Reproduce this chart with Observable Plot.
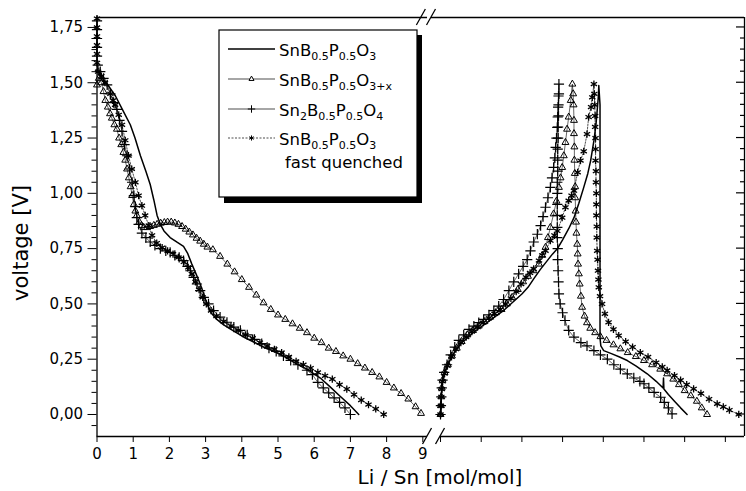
<!DOCTYPE html>
<html><head><meta charset="utf-8">
<script src="https://cdn.jsdelivr.net/npm/d3@7"></script>
<script src="https://cdn.jsdelivr.net/npm/@observablehq/plot@0.6"></script>
<style>body{margin:0;background:#fff}svg{display:block}</style>
</head><body><div id="chart"></div>
<script>
// ---------- data (x in mol/mol, voltage in V) ----------
const seriesNames = ["SnB0.5P0.5O3", "SnB0.5P0.5O3+x", "Sn2B0.5P0.5O4", "SnB0.5P0.5O3 fast quenched"];

// first discharge (left panel, x = Li/Sn)
const solidDischarge = [[0,1.56],[0.1,1.53],[0.3,1.49],[0.51,1.44],[0.7,1.38],[0.92,1.31],[1.05,1.25],[1.2,1.17],[1.35,1.10],[1.47,1.04],[1.57,0.97],[1.66,0.90],[1.75,0.86],[1.85,0.83],[2.02,0.80],[2.2,0.78],[2.39,0.76],[2.5,0.73],[2.62,0.68],[2.75,0.63],[2.85,0.59],[2.95,0.545],[3.04,0.50],[3.15,0.46],[3.31,0.43],[3.5,0.405],[3.7,0.385],[4.0,0.355],[4.3,0.33],[4.6,0.305],[4.9,0.285],[5.2,0.26],[5.5,0.23],[5.8,0.205],[6.17,0.165],[6.44,0.125],[6.7,0.085],[7.0,0.04],[7.23,0.0]];
const triDischarge = [[0,1.49],[0.05,1.52],[0.12,1.50],[0.18,1.46],[0.23,1.42],[0.3,1.39],[0.36,1.36],[0.41,1.34],[0.48,1.31],[0.55,1.29],[0.61,1.25],[0.67,1.22],[0.73,1.185],[0.78,1.15],[0.83,1.11],[0.88,1.07],[0.93,1.03],[0.97,0.99],[1.02,0.95],[1.06,0.92],[1.1,0.90],[1.17,0.87],[1.23,0.855],[1.29,0.846],[1.38,0.845],[1.47,0.85],[1.57,0.855],[1.66,0.86],[1.76,0.865],[1.86,0.868],[1.95,0.87],[2.05,0.87],[2.15,0.866],[2.25,0.86],[2.35,0.85],[2.45,0.838],[2.55,0.825],[2.65,0.812],[2.75,0.797],[2.85,0.784],[2.95,0.77],[3.05,0.757],[3.2,0.745],[3.4,0.715],[3.6,0.68],[3.8,0.645],[4.0,0.61],[4.2,0.575],[4.4,0.54],[4.6,0.505],[4.8,0.475],[5.0,0.45],[5.2,0.43],[5.4,0.41],[5.6,0.39],[5.8,0.37],[6.0,0.345],[6.2,0.325],[6.4,0.30],[6.6,0.285],[6.8,0.265],[7.0,0.25],[7.2,0.23],[7.4,0.21],[7.6,0.19],[7.8,0.17],[8.0,0.145],[8.2,0.12],[8.4,0.095],[8.6,0.07],[8.8,0.035],[8.95,0.005]];
const plusDischarge = [[0,1.78],[0,1.74],[0,1.70],[0,1.66],[0,1.62],[0.02,1.58],[0.09,1.55],[0.18,1.52],[0.28,1.49],[0.37,1.45],[0.46,1.41],[0.55,1.38],[0.62,1.33],[0.69,1.28],[0.76,1.22],[0.83,1.17],[0.9,1.11],[0.97,1.05],[1.02,0.99],[1.06,0.94],[1.1,0.89],[1.15,0.86],[1.24,0.82],[1.35,0.80],[1.47,0.78],[1.6,0.765],[1.75,0.75],[1.9,0.74],[2.02,0.733],[2.15,0.72],[2.27,0.71],[2.39,0.696],[2.5,0.67],[2.58,0.65],[2.67,0.62],[2.76,0.59],[2.85,0.56],[2.95,0.53],[3.08,0.50],[3.22,0.47],[3.4,0.44],[3.59,0.417],[3.78,0.395],[3.96,0.38],[4.15,0.36],[4.35,0.34],[4.55,0.32],[4.75,0.30],[4.95,0.285],[5.15,0.265],[5.35,0.245],[5.55,0.225],[5.8,0.20],[5.95,0.18],[6.1,0.145],[6.25,0.12],[6.4,0.098],[6.55,0.075],[6.7,0.055],[6.85,0.03],[7.0,0.0]];
const starDischarge = [[0,1.79],[0,1.75],[0,1.71],[0,1.67],[0,1.63],[0,1.59],[0.03,1.55],[0.12,1.53],[0.22,1.50],[0.37,1.45],[0.44,1.42],[0.5,1.40],[0.6,1.355],[0.69,1.31],[0.78,1.24],[0.87,1.17],[0.96,1.11],[1.06,1.05],[1.15,0.99],[1.24,0.944],[1.33,0.90],[1.43,0.854],[1.52,0.81],[1.65,0.775],[1.8,0.755],[1.95,0.74],[2.1,0.725],[2.25,0.71],[2.4,0.69],[2.52,0.665],[2.62,0.635],[2.72,0.60],[2.82,0.565],[2.92,0.53],[3.02,0.50],[3.15,0.47],[3.3,0.445],[3.5,0.42],[3.7,0.40],[3.9,0.38],[4.1,0.36],[4.3,0.345],[4.5,0.325],[4.7,0.31],[4.9,0.295],[5.1,0.28],[5.3,0.26],[5.5,0.24],[5.7,0.225],[5.9,0.21],[6.1,0.19],[6.3,0.175],[6.5,0.16],[6.7,0.135],[6.9,0.115],[7.1,0.09],[7.3,0.065],[7.5,0.045],[7.7,0.025],[7.92,0.0]];

// charge + second discharge (right panel, unlabeled axis units)
const solidCharge = [[0,0],[0.01,0.04],[0.02,0.08],[0.03,0.115],[0.05,0.15],[0.1,0.185],[0.17,0.22],[0.27,0.26],[0.38,0.29],[0.5,0.32],[0.65,0.345],[0.8,0.37],[0.95,0.39],[1.1,0.41],[1.25,0.43],[1.4,0.45],[1.55,0.47],[1.7,0.495],[1.85,0.52],[2.0,0.545],[2.15,0.575],[2.29,0.613],[2.45,0.655],[2.6,0.69],[2.75,0.725],[2.87,0.749],[3.0,0.79],[3.15,0.84],[3.28,0.89],[3.4,0.955],[3.52,1.027],[3.62,1.09],[3.69,1.148],[3.77,1.238],[3.82,1.31],[3.85,1.374],[3.88,1.44],[3.89,1.487]];
const solidRecharge = [[3.92,1.40],[3.92,1.0],[3.92,0.6],[3.92,0.345],[3.94,0.31],[4.01,0.289],[4.2,0.275],[4.4,0.26],[4.59,0.244],[4.8,0.22],[5.08,0.184],[5.3,0.15],[5.47,0.12],[5.48,0.165],[5.49,0.115],[5.6,0.09],[5.75,0.06],[5.9,0.03],[6.06,0.0]];
const triCharge = [[0,0],[0.01,0.04],[0.02,0.08],[0.03,0.12],[0.05,0.155],[0.1,0.19],[0.18,0.225],[0.28,0.265],[0.4,0.30],[0.52,0.33],[0.66,0.36],[0.8,0.38],[0.94,0.40],[1.08,0.42],[1.22,0.44],[1.36,0.46],[1.5,0.475],[1.63,0.50],[1.76,0.53],[1.9,0.565],[2.03,0.60],[2.15,0.625],[2.28,0.65],[2.42,0.68],[2.5,0.72],[2.58,0.756],[2.64,0.80],[2.7,0.846],[2.78,0.907],[2.85,0.965],[2.91,1.027],[2.95,1.07],[2.99,1.117],[3.03,1.17],[3.07,1.23],[3.11,1.29],[3.15,1.345],[3.2,1.42],[3.24,1.494]];
const triRecharge = [[3.26,1.45],[3.27,1.40],[3.28,1.33],[3.28,1.27],[3.29,1.21],[3.29,1.15],[3.3,1.09],[3.31,1.03],[3.31,0.98],[3.32,0.92],[3.33,0.87],[3.34,0.82],[3.36,0.77],[3.37,0.726],[3.38,0.68],[3.4,0.636],[3.42,0.59],[3.45,0.535],[3.48,0.485],[3.54,0.445],[3.6,0.415],[3.68,0.39],[3.8,0.37],[3.93,0.352],[4.08,0.335],[4.25,0.315],[4.42,0.297],[4.6,0.28],[4.8,0.262],[5.0,0.244],[5.2,0.225],[5.4,0.205],[5.57,0.184],[5.72,0.16],[5.86,0.135],[6.0,0.108],[6.15,0.085],[6.3,0.06],[6.42,0.03],[6.55,0.0]];
const plusCharge = [[0,0],[0.01,0.04],[0.02,0.08],[0.03,0.12],[0.05,0.155],[0.09,0.19],[0.16,0.225],[0.25,0.27],[0.35,0.305],[0.45,0.335],[0.57,0.36],[0.7,0.385],[0.82,0.40],[0.94,0.415],[1.06,0.43],[1.19,0.45],[1.31,0.47],[1.43,0.49],[1.55,0.52],[1.68,0.56],[1.8,0.60],[1.92,0.636],[2.03,0.67],[2.13,0.70],[2.21,0.74],[2.29,0.78],[2.38,0.815],[2.46,0.854],[2.52,0.895],[2.58,0.937],[2.64,0.98],[2.7,1.027],[2.74,1.07],[2.78,1.117],[2.81,1.16],[2.83,1.208],[2.85,1.25],[2.87,1.298],[2.88,1.345],[2.89,1.39],[2.9,1.44],[2.91,1.494]];
const plusRecharge = [[2.91,1.45],[2.9,1.40],[2.9,1.35],[2.89,1.30],[2.89,1.25],[2.88,1.20],[2.88,1.15],[2.88,1.10],[2.87,1.05],[2.87,1.0],[2.87,0.95],[2.87,0.90],[2.87,0.846],[2.87,0.80],[2.88,0.75],[2.88,0.70],[2.89,0.65],[2.9,0.60],[2.91,0.545],[2.94,0.50],[3.0,0.46],[3.06,0.425],[3.15,0.38],[3.28,0.35],[3.45,0.325],[3.6,0.31],[3.77,0.289],[3.93,0.27],[4.1,0.25],[4.26,0.225],[4.42,0.205],[4.59,0.184],[4.75,0.165],[4.9,0.15],[5.0,0.139],[5.12,0.12],[5.25,0.10],[5.41,0.078],[5.5,0.055],[5.6,0.03],[5.69,0.003]];
const starCharge = [[0,0],[0.01,0.04],[0.02,0.08],[0.03,0.115],[0.05,0.15],[0.1,0.185],[0.17,0.22],[0.27,0.26],[0.38,0.295],[0.5,0.325],[0.63,0.35],[0.77,0.375],[0.91,0.395],[1.05,0.415],[1.19,0.435],[1.33,0.455],[1.47,0.475],[1.6,0.50],[1.73,0.525],[1.86,0.555],[1.98,0.59],[2.1,0.62],[2.2,0.64],[2.29,0.658],[2.42,0.696],[2.5,0.72],[2.58,0.74],[2.7,0.786],[2.8,0.81],[2.87,0.83],[2.99,0.89],[3.07,0.937],[3.15,0.967],[3.22,0.99],[3.28,1.012],[3.37,1.095],[3.44,1.148],[3.52,1.19],[3.6,1.268],[3.64,1.345],[3.7,1.39],[3.73,1.434],[3.77,1.494]];
const starRecharge = [[3.78,1.45],[3.79,1.40],[3.8,1.35],[3.8,1.30],[3.81,1.25],[3.81,1.20],[3.81,1.148],[3.82,1.10],[3.82,1.05],[3.83,1.0],[3.83,0.95],[3.83,0.90],[3.84,0.85],[3.84,0.80],[3.85,0.74],[3.86,0.70],[3.87,0.65],[3.88,0.61],[3.89,0.575],[3.92,0.535],[3.97,0.50],[4.04,0.455],[4.13,0.417],[4.25,0.385],[4.38,0.357],[4.55,0.33],[4.72,0.305],[4.91,0.28],[5.1,0.26],[5.3,0.235],[5.45,0.215],[5.57,0.199],[5.75,0.176],[5.9,0.155],[6.05,0.135],[6.22,0.116],[6.4,0.095],[6.6,0.07],[6.8,0.048],[6.95,0.035],[7.1,0.02],[7.33,0.0]];

// ticks and labels
const yTicks = [0, 0.25, 0.5, 0.75, 1.0, 1.25, 1.5, 1.75];
const yTickLabels = ["0,00", "0,25", "0,50", "0,75", "1,00", "1,25", "1,50", "1,75"];
const xTicks = [0, 1, 2, 3, 4, 5, 6, 7, 8, 9];
const xTickLabels = ["0", "1", "2", "3", "4", "5", "6", "7", "8", "9"];
const rightTicks = [0, 1, 2, 3, 4, 5, 6, 7];
const xTitle = "Li / Sn [mol/mol]";
const yTitle = "voltage [V]";
const legendParts = [
  [["SnB"], ["0.5", 1], ["P"], ["0.5", 1], ["O"], ["3", 1]],
  [["SnB"], ["0.5", 1], ["P"], ["0.5", 1], ["O"], ["3+x", 1]],
  [["Sn"], ["2", 1], ["B"], ["0.5", 1], ["P"], ["0.5", 1], ["O"], ["4", 1]],
  [["SnB"], ["0.5", 1], ["P"], ["0.5", 1], ["O"], ["3", 1]]
];
const legendNote = "fast quenched";

// ---------- axis-break layout ----------
const X_MAX = 17.886;          // right frame
const RIGHT_ZERO = 9.489;      // where right panel starts
const RIGHT_UNIT = 1.124;      // right panel tick spacing
const Y_MIN = -0.0995, Y_MAX = 1.795;
const BREAK_BOTTOM = [9.13, 9.489];
const BREAK_TOP = [8.96, 9.24];

const toRight = u => RIGHT_ZERO + u * RIGHT_UNIT;
function rows(series, seg, pts, right) {
  return pts.map(([a, v]) => ({series, seg, x: right ? toRight(a) : a, v}));
}
const solid = [...rows(0, "d", solidDischarge), ...rows(0, "c", solidCharge.concat(solidRecharge), true)];
const tri = [...rows(1, "d", triDischarge), ...rows(1, "c", triCharge.concat(triRecharge), true)];
const plus = [...rows(2, "d", plusDischarge), ...rows(2, "c", plusCharge.concat(plusRecharge), true)];
const star = [...rows(3, "d", starDischarge), ...rows(3, "c", starCharge.concat(starRecharge), true)];

const yMinor = d3.range(-0.05, 1.79, 0.05).filter(v => Math.abs(v / 0.25 - Math.round(v / 0.25)) > 0.01);

const plot = Plot.plot({
  width: 746, height: 491,
  marginLeft: 96.5, marginRight: 2, marginTop: 17, marginBottom: 55,
  x: {domain: [0, X_MAX]},
  y: {domain: [Y_MIN, Y_MAX]},
  style: {fontFamily: "'DejaVu Sans', sans-serif", fontSize: "15px", color: "#000", background: "#fff"},
  marks: [
    Plot.ruleX([0, X_MAX], {stroke: "#000", strokeWidth: 1.3}),
    Plot.ruleY([Y_MIN, Y_MAX], {x1: 0, x2: BREAK_BOTTOM[0], stroke: "#000", strokeWidth: 1.3}),
    Plot.ruleY([Y_MIN], {x1: BREAK_BOTTOM[1], x2: X_MAX, stroke: "#000", strokeWidth: 1.3}),
    Plot.ruleY([Y_MAX], {x1: BREAK_TOP[1], x2: X_MAX, stroke: "#000", strokeWidth: 1.3}),
    Plot.axisY({ticks: yTicks, tickSize: 9, tickPadding: 5, tickFormat: d => yTickLabels[yTicks.indexOf(d)], label: null}),
    Plot.axisY({ticks: yMinor, tickSize: 5, tickFormat: () => "", label: null}),
    Plot.axisX({ticks: xTicks, tickSize: 6, tickPadding: 6, tickFormat: d => xTickLabels[xTicks.indexOf(d)], label: null}),
    Plot.axisX({ticks: rightTicks.map(toRight), tickSize: 6, tickFormat: () => "", label: null}),
    Plot.line(solid, {x: "x", y: "v", z: "seg", stroke: "#000", strokeWidth: 1.5}),
    Plot.line(tri, {x: "x", y: "v", z: "seg", stroke: "#000", strokeWidth: 0.6}),
    Plot.dot(tri, {x: "x", y: "v", symbol: "triangle2", r: 3.3, stroke: "#000", fill: "none", strokeWidth: 1.0}),
    Plot.line(plus, {x: "x", y: "v", z: "seg", stroke: "#000", strokeWidth: 0.6}),
    Plot.dot(plus, {x: "x", y: "v", symbol: "plus", r: 3.4, stroke: "#000", fill: "none", strokeWidth: 1.2}),
    Plot.line(star, {x: "x", y: "v", z: "seg", stroke: "#000", strokeWidth: 0.7, strokeDasharray: "1.5,1.5"}),
    Plot.dot(star, {x: "x", y: "v", symbol: "asterisk", r: 3.4, stroke: "#000", fill: "none", strokeWidth: 1.3})
  ]
});

// ---------- decorations: inward right ticks, break marks, titles, legend ----------
const svg = d3.select(plot);
const sx = plot.scale("x"), sy = plot.scale("y");
const g = svg.append("g").attr("stroke", "#000").attr("stroke-width", 1.2);
const xr = sx.apply(X_MAX);
yTicks.forEach(v => g.append("line").attr("x1", xr - 8).attr("x2", xr).attr("y1", sy.apply(v)).attr("y2", sy.apply(v)));
yMinor.forEach(v => g.append("line").attr("x1", xr - 4).attr("x2", xr).attr("y1", sy.apply(v)).attr("y2", sy.apply(v)));
function slash(cx, cy) {
  g.append("line").attr("x1", cx - 4.5).attr("y1", cy + 8).attr("x2", cx + 4.5).attr("y2", cy - 8).attr("stroke-width", 1.3);
}
BREAK_BOTTOM.forEach(b => slash(sx.apply(b), sy.apply(Y_MIN)));
BREAK_TOP.forEach(b => slash(sx.apply(b), sy.apply(Y_MAX)));

svg.append("text").text(xTitle)
  .attr("x", 440).attr("y", 484).attr("text-anchor", "middle")
  .attr("font-size", 20).attr("fill", "#000");
svg.append("text").text(yTitle)
  .attr("transform", "translate(28,243) rotate(-90)").attr("text-anchor", "middle")
  .attr("font-size", 21).attr("fill", "#000");

// legend
const L = svg.append("g").attr("font-size", 16.5).attr("fill", "#000").attr("text-anchor", "start");
L.append("rect").attr("x", 224).attr("y", 35).attr("width", 198).attr("height", 168).attr("fill", "#000");
L.append("rect").attr("x", 219).attr("y", 30).attr("width", 198).attr("height", 167)
  .attr("fill", "#fff").attr("stroke", "#000").attr("stroke-width", 1.2);
const rowY = [49, 79, 109, 138];
const symTypes = [null, d3.symbolTriangle2, d3.symbolPlus, d3.symbolAsterisk];
const symSizes = [0, 18, 20, 18];
const lineW = [1.4, 0.7, 0.7, 0.7];
const lineDash = [null, null, null, "2,1.5"];
rowY.forEach((y, i) => {
  L.append("line").attr("x1", 228).attr("x2", 275).attr("y1", y).attr("y2", y)
    .attr("stroke", "#000").attr("stroke-width", lineW[i]).attr("stroke-dasharray", lineDash[i]);
  if (symTypes[i]) {
    L.append("path").attr("d", d3.symbol(symTypes[i], symSizes[i])())
      .attr("transform", `translate(251.5,${y})`).attr("fill", "#fff").attr("stroke", "#000").attr("stroke-width", 1);
  }
  const t = L.append("text").attr("x", 279).attr("y", y + 6.5).attr("text-anchor", "start");
  let shifted = false;
  legendParts[i].forEach(([s, sub]) => {
    const ts = t.append("tspan").text(s);
    if (sub && !shifted) { ts.attr("dy", 4.5).attr("font-size", 11); shifted = true; }
    else if (sub) { ts.attr("font-size", 11); }
    else if (shifted) { ts.attr("dy", -4.5); shifted = false; }
  });
});
L.append("text").text(legendNote).attr("x", 285).attr("y", 168).attr("text-anchor", "start");

document.getElementById("chart").appendChild(plot);
</script>
</body></html>
